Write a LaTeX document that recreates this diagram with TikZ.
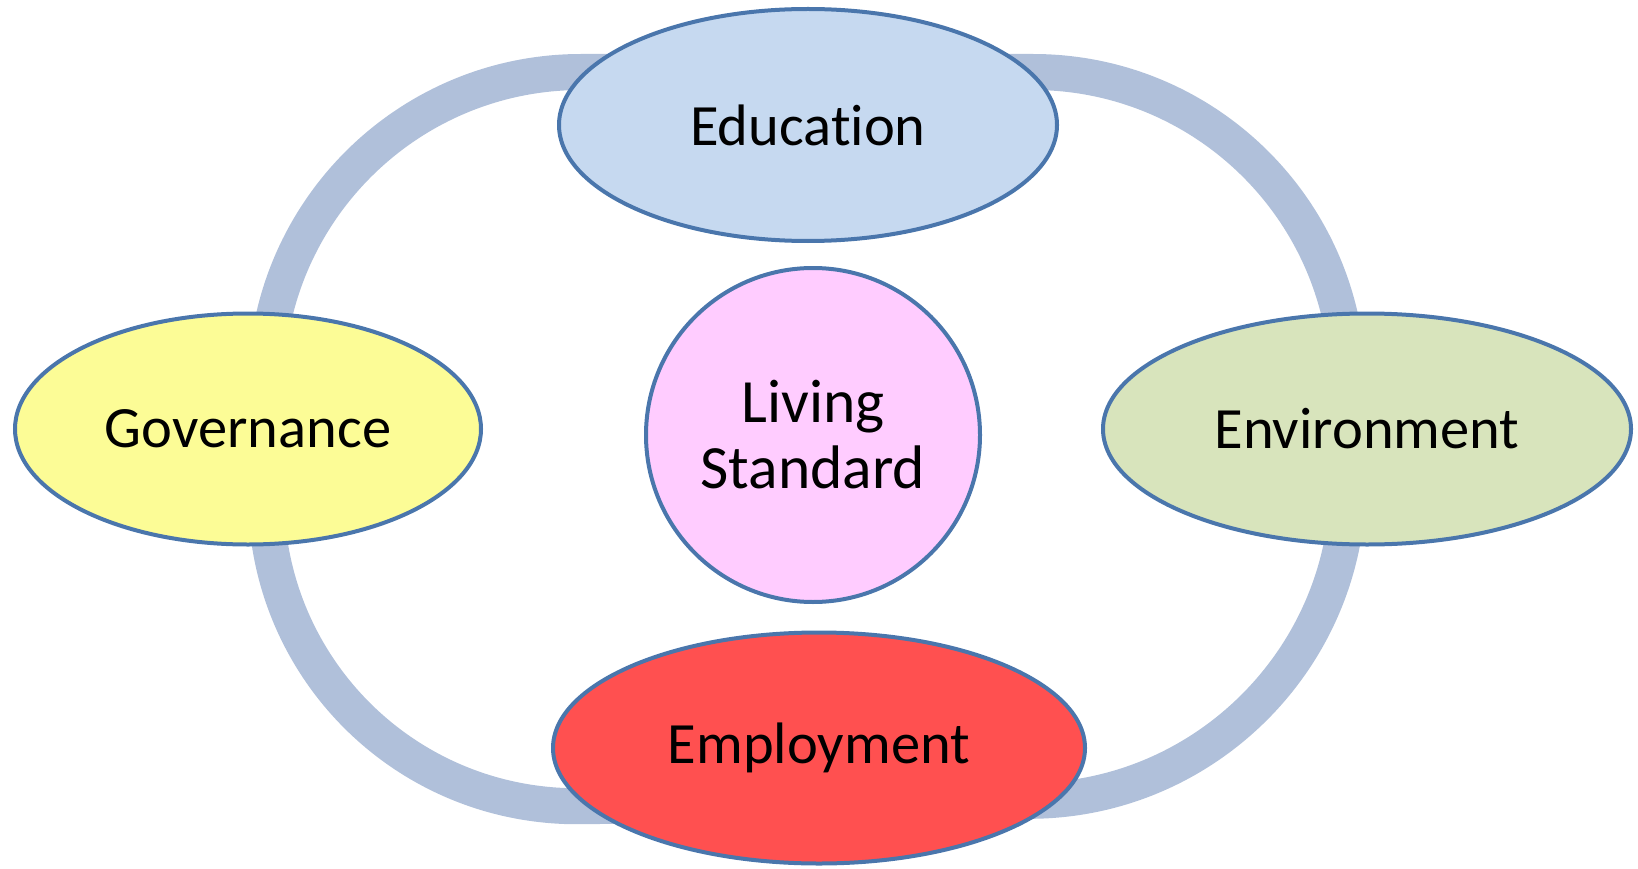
\documentclass[tikz,border=0pt]{standalone}
\usepackage{fontspec}
\setmainfont[Ligatures=NoCommon]{Carlito}
\usetikzlibrary{shapes.geometric}
\definecolor{rim}{HTML}{4A76AC}
\definecolor{band}{HTML}{B0C0DA}
\definecolor{eduFill}{HTML}{C6D9F0}
\definecolor{govFill}{HTML}{FCFC96}
\definecolor{envFill}{HTML}{D8E4BC}
\definecolor{empFill}{HTML}{FF5050}
\definecolor{livFill}{HTML}{FFCCFF}
\begin{document}
\begin{tikzpicture}[x=1pt,y=-1pt,
  topic/.style={ellipse, draw=rim, line width=4pt, inner sep=0pt,
    font=\fontsize{58.5}{66}\selectfont, align=center},
  ring/.style={draw=band, line width=36pt, rounded corners=315pt}]
  \useasboundingbox (0,0) rectangle (1638,869);
  % cycle band behind the topics; it starts and ends under the Education node
  \coordinate (bandstart) at (808,72);
  \draw[ring] (bandstart) -- (1348,72) -- (1348,797) -- (266,810) -- (266,72) -- (bandstart);
  % topics
  \node[topic, fill=eduFill, minimum width=498pt, minimum height=232pt] (edu) at (808,125) {Education};
  \node[topic, fill=govFill, minimum width=466pt, minimum height=231pt] (gov) at (248,429) {Governance};
  \node[topic, fill=envFill, minimum width=528pt, minimum height=231pt] (env) at (1367,429) {Environment};
  \node[topic, fill=empFill, minimum width=532pt, minimum height=231pt] (emp) at (819,748) {Employment};
  \node[topic, circle, fill=livFill, minimum size=334pt,
    font=\fontsize{61.5}{66}\selectfont] (liv) at (813,435) {Living\\Standard};
\end{tikzpicture}
\end{document}
